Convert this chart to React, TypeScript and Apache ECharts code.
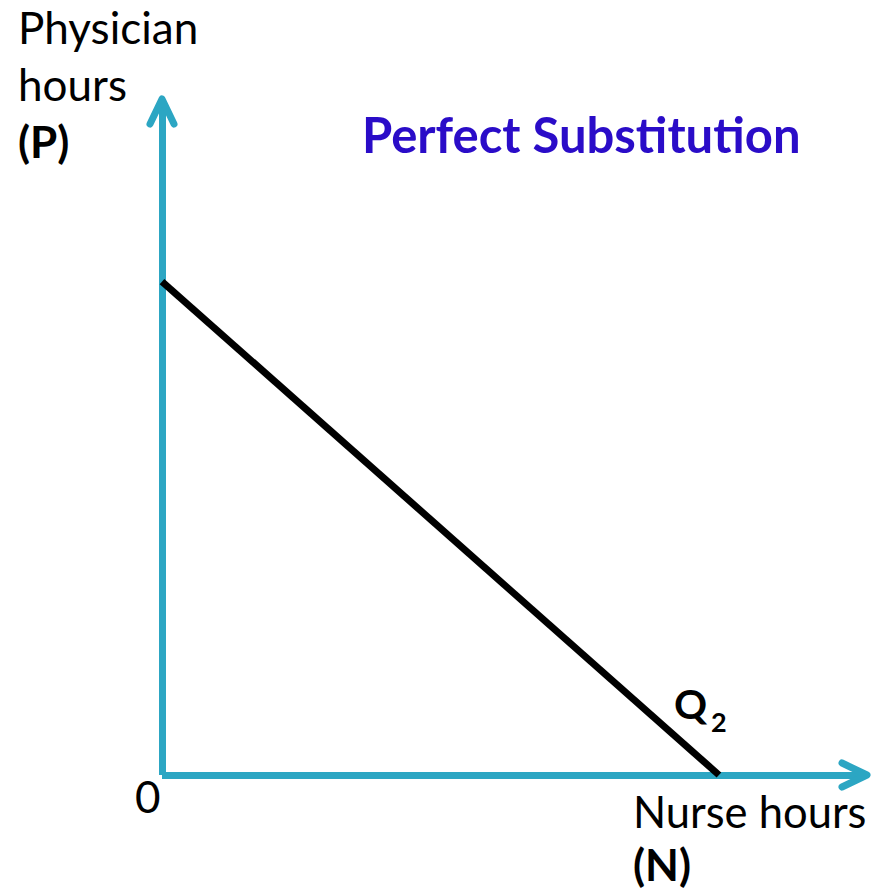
import React, { useEffect, useRef } from "react";
import * as echarts from "echarts";

// Isoquant Q2 (perfect substitutes): straight line between the axes
const nurseHours = [0, 79];
const physicianHours = [73, 0];
const axisMax = 100;

const AXIS_COLOR = "#2CA6C3";
const TITLE_COLOR = "#2A0CC8";
const FONT = "Lato, 'Open Sans', sans-serif";

// grid layout (pixels)
const GRID_LEFT = 162;
const GRID_TOP = 99;
const GRID_RIGHT = 13;
const GRID_BOTTOM = 117;
const W = 880;
const H = 892;

export default function App() {
  const ref = useRef<HTMLDivElement>(null);
  useEffect(() => {
    document.body.style.margin = "0";
    if (!ref.current) return;
    const chart = echarts.init(ref.current, undefined, { renderer: "svg" });
    const iso = nurseHours.map((n, i) => [n, physicianHours[i]]);
    // arrow tips at the axis ends: [x, y, direction] (0 = right, 1 = up)
    const arrowTips = [
      [axisMax, 0, 0],
      [0, axisMax, 1],
    ];
    const ARM_LONG = 25;
    const ARM_SHORT = 12;

    const axisCommon = {
      type: "value" as const,
      min: 0,
      max: axisMax,
      axisLine: { show: true, onZero: false, lineStyle: { color: AXIS_COLOR, width: 7, cap: "butt" } },
      axisTick: { show: false },
      axisLabel: { show: false },
      splitLine: { show: false },
    };

    const txt = (
      text: string,
      x: number,
      baseline: number,
      size: number,
      bold = false,
      color = "#000"
    ) => ({
      type: "text",
      x,
      y: baseline - size * 0.36,
      style: {
        text,
        fill: color,
        font: `${bold ? "bold " : ""}${size}px ${FONT}`,
        align: "left",
        verticalAlign: "middle",
      },
      silent: true,
    });

    chart.setOption({
      animation: false,
      grid: { left: GRID_LEFT, top: GRID_TOP, right: GRID_RIGHT, bottom: GRID_BOTTOM, containLabel: false },
      xAxis: axisCommon,
      yAxis: axisCommon,
      series: [
        {
          type: "line",
          data: iso,
          symbol: "none",
          lineStyle: { color: "#000", width: 7, cap: "butt" },
          clip: false,
          z: 3,
        },
        {
          type: "custom",
          data: arrowTips,
          clip: false,
          z: 2,
          renderItem: (_params: any, api: any) => {
            const tip = api.coord([api.value(0), api.value(1)]);
            const dir = api.value(2);
            const points =
              dir === 0
                ? [
                    [tip[0] - ARM_LONG, tip[1] - ARM_SHORT],
                    [tip[0], tip[1]],
                    [tip[0] - ARM_LONG, tip[1] + ARM_SHORT],
                  ]
                : [
                    [tip[0] - ARM_SHORT, tip[1] + ARM_LONG],
                    [tip[0], tip[1]],
                    [tip[0] + ARM_SHORT, tip[1] + ARM_LONG],
                  ];
            return {
              type: "polyline",
              shape: { points },
              style: {
                stroke: AXIS_COLOR,
                lineWidth: 7,
                fill: "none",
                lineCap: "round",
                lineJoin: "round",
              },
            };
          },
        },
      ],
      graphic: [
        txt("Physician", 18, 43, 44),
        txt("hours", 18, 100, 44),
        txt("(P)", 18, 157, 44, true),
        txt("Perfect Substitution", 362, 152, 49, true, TITLE_COLOR),
        txt("0", 135, 812, 44),
        txt("Nurse hours", 633, 827, 43.5),
        txt("(N)", 633, 880, 44, true),
        txt("Q", 674, 718, 41, true),
        txt("2", 711, 731, 27, true),
      ],
    });
    return () => chart.dispose();
  }, []);
  return <div ref={ref} style={{ width: W, height: H }} />;
}
